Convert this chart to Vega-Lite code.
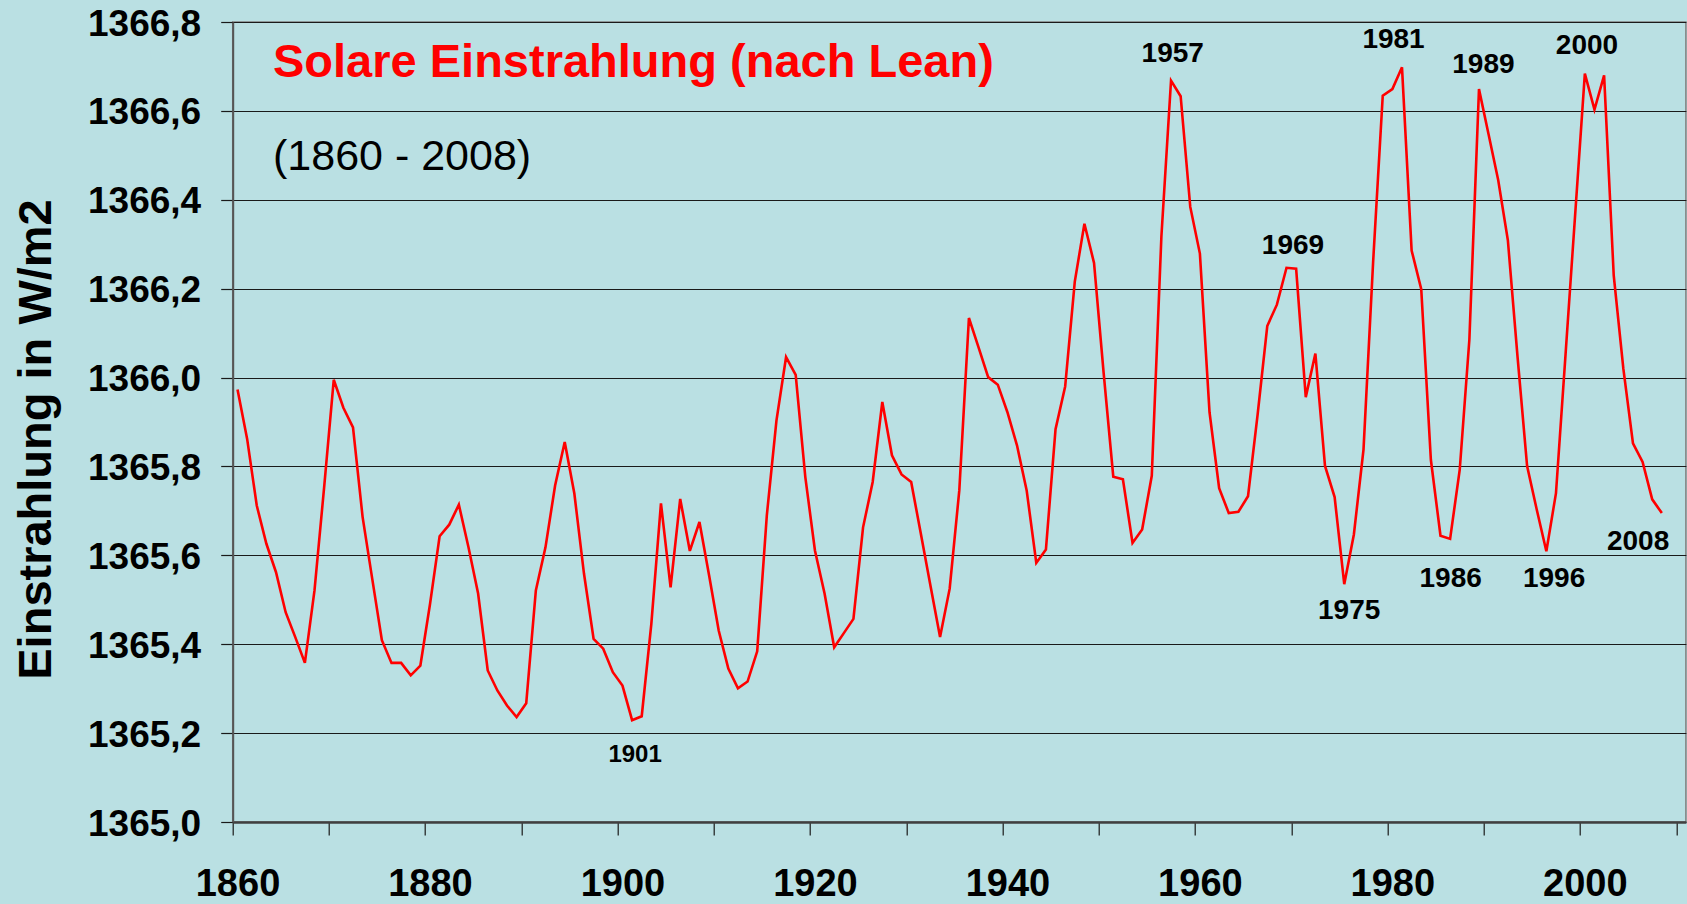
{
  "$schema": "https://vega.github.io/schema/vega-lite/v6.json",
  "autosize": {"type": "none"},
  "padding": {"left": 232.7, "top": 22, "right": 1.1, "bottom": 82},
  "width": 1453.2,
  "height": 800,
  "background": "#BAE0E3",
  "config": {
    "view": {"fill": "#BAE0E3", "stroke": "#808080", "strokeWidth": 1.5},
    "font": "Liberation Sans"
  },
  "title": {
    "text": "Solare Einstrahlung (nach Lean)",
    "subtitle": "(1860 - 2008)",
    "orient": "top",
    "anchor": "start",
    "frame": "group",
    "offset": -175,
    "dx": 40.3,
    "font": "Liberation Sans",
    "fontSize": 47,
    "fontWeight": "bold",
    "color": "#FF0000",
    "subtitleFont": "Liberation Sans",
    "subtitleFontSize": 43,
    "subtitleFontWeight": "normal",
    "subtitleColor": "#000000",
    "subtitlePadding": 49
  },
  "datasets": {
    "irradiance": [
      {"year": 1860, "irradiance": 1365.973}, {"year": 1861, "irradiance": 1365.862}, {"year": 1862, "irradiance": 1365.712},
      {"year": 1863, "irradiance": 1365.626}, {"year": 1864, "irradiance": 1365.562}, {"year": 1865, "irradiance": 1365.472},
      {"year": 1866, "irradiance": 1365.416}, {"year": 1867, "irradiance": 1365.358}, {"year": 1868, "irradiance": 1365.521},
      {"year": 1869, "irradiance": 1365.753}, {"year": 1870, "irradiance": 1365.995}, {"year": 1871, "irradiance": 1365.932},
      {"year": 1872, "irradiance": 1365.888}, {"year": 1873, "irradiance": 1365.686}, {"year": 1874, "irradiance": 1365.547},
      {"year": 1875, "irradiance": 1365.409}, {"year": 1876, "irradiance": 1365.358}, {"year": 1877, "irradiance": 1365.358},
      {"year": 1878, "irradiance": 1365.330}, {"year": 1879, "irradiance": 1365.352}, {"year": 1880, "irradiance": 1365.490},
      {"year": 1881, "irradiance": 1365.643}, {"year": 1882, "irradiance": 1365.669}, {"year": 1883, "irradiance": 1365.714},
      {"year": 1884, "irradiance": 1365.618}, {"year": 1885, "irradiance": 1365.514}, {"year": 1886, "irradiance": 1365.341},
      {"year": 1887, "irradiance": 1365.296}, {"year": 1888, "irradiance": 1365.262}, {"year": 1889, "irradiance": 1365.236},
      {"year": 1890, "irradiance": 1365.267}, {"year": 1891, "irradiance": 1365.521}, {"year": 1892, "irradiance": 1365.618},
      {"year": 1893, "irradiance": 1365.757}, {"year": 1894, "irradiance": 1365.855}, {"year": 1895, "irradiance": 1365.739},
      {"year": 1896, "irradiance": 1365.559}, {"year": 1897, "irradiance": 1365.412}, {"year": 1898, "irradiance": 1365.390},
      {"year": 1899, "irradiance": 1365.337}, {"year": 1900, "irradiance": 1365.307}, {"year": 1901, "irradiance": 1365.229},
      {"year": 1902, "irradiance": 1365.238}, {"year": 1903, "irradiance": 1365.446}, {"year": 1904, "irradiance": 1365.717},
      {"year": 1905, "irradiance": 1365.528}, {"year": 1906, "irradiance": 1365.727}, {"year": 1907, "irradiance": 1365.610},
      {"year": 1908, "irradiance": 1365.675}, {"year": 1909, "irradiance": 1365.555}, {"year": 1910, "irradiance": 1365.431},
      {"year": 1911, "irradiance": 1365.345}, {"year": 1912, "irradiance": 1365.301}, {"year": 1913, "irradiance": 1365.316},
      {"year": 1914, "irradiance": 1365.384}, {"year": 1915, "irradiance": 1365.690}, {"year": 1916, "irradiance": 1365.903},
      {"year": 1917, "irradiance": 1366.046}, {"year": 1918, "irradiance": 1366.006}, {"year": 1919, "irradiance": 1365.776},
      {"year": 1920, "irradiance": 1365.611}, {"year": 1921, "irradiance": 1365.514}, {"year": 1922, "irradiance": 1365.393},
      {"year": 1923, "irradiance": 1365.425}, {"year": 1924, "irradiance": 1365.457}, {"year": 1925, "irradiance": 1365.663},
      {"year": 1926, "irradiance": 1365.765}, {"year": 1927, "irradiance": 1365.945}, {"year": 1928, "irradiance": 1365.825},
      {"year": 1929, "irradiance": 1365.782}, {"year": 1930, "irradiance": 1365.765}, {"year": 1931, "irradiance": 1365.649},
      {"year": 1932, "irradiance": 1365.532}, {"year": 1933, "irradiance": 1365.416}, {"year": 1934, "irradiance": 1365.525},
      {"year": 1935, "irradiance": 1365.746}, {"year": 1936, "irradiance": 1366.134}, {"year": 1937, "irradiance": 1366.068},
      {"year": 1938, "irradiance": 1366.001}, {"year": 1939, "irradiance": 1365.984}, {"year": 1940, "irradiance": 1365.922},
      {"year": 1941, "irradiance": 1365.847}, {"year": 1942, "irradiance": 1365.746}, {"year": 1943, "irradiance": 1365.583},
      {"year": 1944, "irradiance": 1365.613}, {"year": 1945, "irradiance": 1365.884}, {"year": 1946, "irradiance": 1365.980},
      {"year": 1947, "irradiance": 1366.216}, {"year": 1948, "irradiance": 1366.346}, {"year": 1949, "irradiance": 1366.258},
      {"year": 1950, "irradiance": 1366.010}, {"year": 1951, "irradiance": 1365.777}, {"year": 1952, "irradiance": 1365.771},
      {"year": 1953, "irradiance": 1365.628}, {"year": 1954, "irradiance": 1365.658}, {"year": 1955, "irradiance": 1365.779},
      {"year": 1956, "irradiance": 1366.318}, {"year": 1957, "irradiance": 1366.668}, {"year": 1958, "irradiance": 1366.633},
      {"year": 1959, "irradiance": 1366.384}, {"year": 1960, "irradiance": 1366.279}, {"year": 1961, "irradiance": 1365.922},
      {"year": 1962, "irradiance": 1365.751}, {"year": 1963, "irradiance": 1365.695}, {"year": 1964, "irradiance": 1365.698},
      {"year": 1965, "irradiance": 1365.733}, {"year": 1966, "irradiance": 1365.917}, {"year": 1967, "irradiance": 1366.116},
      {"year": 1968, "irradiance": 1366.164}, {"year": 1969, "irradiance": 1366.247}, {"year": 1970, "irradiance": 1366.245},
      {"year": 1971, "irradiance": 1365.956}, {"year": 1972, "irradiance": 1366.054}, {"year": 1973, "irradiance": 1365.801},
      {"year": 1974, "irradiance": 1365.731}, {"year": 1975, "irradiance": 1365.535}, {"year": 1976, "irradiance": 1365.647},
      {"year": 1977, "irradiance": 1365.838}, {"year": 1978, "irradiance": 1366.260}, {"year": 1979, "irradiance": 1366.634},
      {"year": 1980, "irradiance": 1366.649}, {"year": 1981, "irradiance": 1366.698}, {"year": 1982, "irradiance": 1366.286},
      {"year": 1983, "irradiance": 1366.199}, {"year": 1984, "irradiance": 1365.815}, {"year": 1985, "irradiance": 1365.644},
      {"year": 1986, "irradiance": 1365.637}, {"year": 1987, "irradiance": 1365.793}, {"year": 1988, "irradiance": 1366.085},
      {"year": 1989, "irradiance": 1366.649}, {"year": 1990, "irradiance": 1366.547}, {"year": 1991, "irradiance": 1366.444},
      {"year": 1992, "irradiance": 1366.309}, {"year": 1993, "irradiance": 1366.048}, {"year": 1994, "irradiance": 1365.801},
      {"year": 1995, "irradiance": 1365.703}, {"year": 1996, "irradiance": 1365.609}, {"year": 1997, "irradiance": 1365.740},
      {"year": 1998, "irradiance": 1366.054}, {"year": 1999, "irradiance": 1366.369}, {"year": 2000, "irradiance": 1366.684},
      {"year": 2001, "irradiance": 1366.603}, {"year": 2002, "irradiance": 1366.680}, {"year": 2003, "irradiance": 1366.230},
      {"year": 2004, "irradiance": 1366.020}, {"year": 2005, "irradiance": 1365.852}, {"year": 2006, "irradiance": 1365.810},
      {"year": 2007, "irradiance": 1365.726}, {"year": 2008, "irradiance": 1365.695}
    ],
    "labels": [
      {"label": "1957", "year": 1957.18, "irradiance": 1366.727},
      {"label": "1981", "year": 1980.12, "irradiance": 1366.760},
      {"label": "1989", "year": 1989.46, "irradiance": 1366.704},
      {"label": "2000", "year": 2000.22, "irradiance": 1366.746},
      {"label": "1969", "year": 1969.67, "irradiance": 1366.296},
      {"label": "1975", "year": 1975.51, "irradiance": 1365.474},
      {"label": "1986", "year": 1986.06, "irradiance": 1365.546},
      {"label": "1996", "year": 1996.80, "irradiance": 1365.546},
      {"label": "2008", "year": 2005.53, "irradiance": 1365.630},
      {"label": "1901", "year": 1901.31, "irradiance": 1365.150}
    ]
  },
  "encoding": {
    "x": {
      "field": "year",
      "type": "quantitative",
      "scale": {"domain": [1859.5, 2010.5], "nice": false, "zero": false},
      "axis": {
        "title": null,
        "values": [1859.5, 1869.5, 1879.5, 1889.5, 1899.5, 1909.5, 1919.5, 1929.5, 1939.5, 1949.5, 1959.5, 1969.5, 1979.5, 1989.5, 1999.5, 2009.5],
        "labelExpr": "(datum.value + 0.5) % 20 == 0 ? format(datum.value + 0.5, 'd') : ''",
        "labelOffset": 4.8,
        "labelFlush": false,
        "labelOverlap": false,
        "labelBound": false,
        "grid": false,
        "domain": true,
        "domainColor": "#404040",
        "domainWidth": 2.5,
        "ticks": true,
        "tickColor": "#1a1a1a",
        "tickSize": 13,
        "tickWidth": 1.2,
        "labelFont": "Liberation Sans",
        "labelFontSize": 38,
        "labelFontWeight": "bold",
        "labelColor": "#000000",
        "labelPadding": 30
      }
    },
    "y": {
      "field": "irradiance",
      "type": "quantitative",
      "scale": {"domain": [1365.0, 1366.8], "nice": false, "zero": false},
      "axis": {
        "title": "Einstrahlung in W/m2",
        "titleFont": "Liberation Sans",
        "titleFontSize": 47,
        "titleFontWeight": "bold",
        "titleColor": "#000000",
        "titleAngle": 270,
        "titleAlign": "center",
        "titleBaseline": "middle",
        "titleX": -196,
        "titleY": 417,
        "values": [1365.0, 1365.2, 1365.4, 1365.6, 1365.8, 1366.0, 1366.2, 1366.4, 1366.6, 1366.8],
        "labelExpr": "replace(format(datum.value, '.1f'), '.', ',')",
        "labelFont": "Liberation Sans",
        "labelFontSize": 37,
        "labelFontWeight": "bold",
        "labelColor": "#000000",
        "labelPadding": 20,
        "labelOffset": 2,
        "labelFlush": false,
        "labelOverlap": false,
        "labelBound": false,
        "grid": true,
        "gridColor": "#1a1a1a",
        "gridWidth": 1.2,
        "gridOpacity": 1,
        "domain": true,
        "domainColor": "#555555",
        "domainWidth": 2,
        "ticks": true,
        "tickColor": "#1a1a1a",
        "tickSize": 12,
        "tickWidth": 1.2
      }
    }
  },
  "layer": [
    {
      "data": {"name": "irradiance"},
      "mark": {"type": "line", "color": "#FF0000", "strokeWidth": 2.6, "clip": true}
    },
    {
      "data": {"name": "labels"},
      "transform": [{"filter": "datum.label != '1901'"}],
      "mark": {"type": "text", "font": "Liberation Sans", "fontSize": 28, "fontWeight": "bold", "color": "#000000", "align": "center", "baseline": "middle"},
      "encoding": {"text": {"field": "label", "type": "nominal"}}
    },
    {
      "data": {"name": "labels"},
      "transform": [{"filter": "datum.label == '1901'"}],
      "mark": {"type": "text", "font": "Liberation Sans", "fontSize": 24, "fontWeight": "bold", "color": "#000000", "align": "center", "baseline": "middle"},
      "encoding": {"text": {"field": "label", "type": "nominal"}}
    }
  ]
}
